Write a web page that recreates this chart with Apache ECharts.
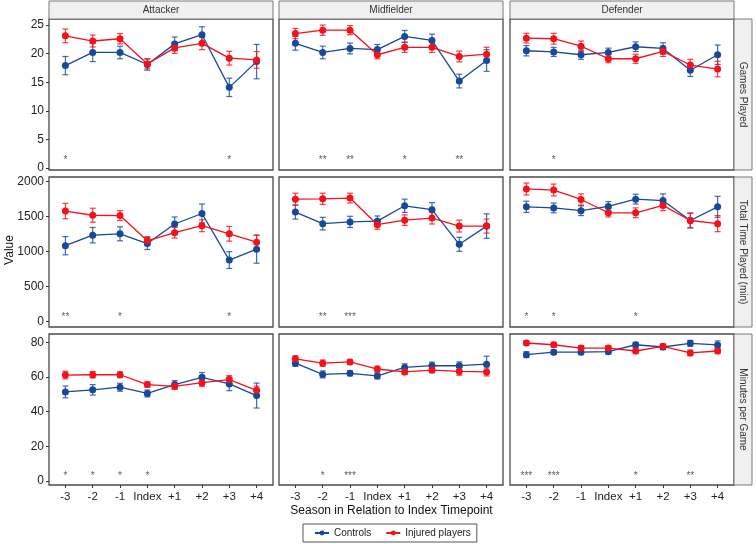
<!DOCTYPE html>
<html>
<head>
<meta charset="utf-8">
<script src="https://cdn.jsdelivr.net/npm/echarts@6/dist/echarts.min.js"></script>
<style>html,body{margin:0;padding:0;background:#fff}#chart{width:756px;height:544px}</style>
</head>
<body>
<div id="chart"></div>
<script>
// ---------- DATA ----------
const categories = ['-3', '-2', '-1', 'Index', '+1', '+2', '+3', '+4'];
const positions = ['Attacker', 'Midfielder', 'Defender'];
const measures = ['Games Played', 'Total Time Played (min)', 'Minutes per Game'];
const seriesNames = ['Controls', 'Injured players'];
const gamesTicks = [0, 5, 10, 15, 20, 25];
const timeTicks = [0, 500, 1000, 1500, 2000];
const mpgTicks = [0, 20, 40, 60, 80];

// Games Played
const gamesAttCtrl   = [17.9, 20.2, 20.2, 18.1, 21.7, 23.3, 14.1, 18.6];
const gamesAttCtrlSE = [1.6, 1.6, 1.1, 1.0, 1.2, 1.4, 1.6, 3.0];
const gamesAttInj    = [23.1, 22.2, 22.6, 18.2, 21.0, 21.8, 19.2, 18.9];
const gamesAttInjSE  = [1.2, 1.05, 0.9, 0.85, 0.95, 1.1, 1.2, 1.45];
const gamesMidCtrl   = [21.8, 20.2, 20.9, 20.7, 23.0, 22.3, 15.2, 18.8];
const gamesMidCtrlSE = [1.2, 1.1, 0.95, 0.9, 1.05, 1.1, 1.2, 1.9];
const gamesMidInj    = [23.5, 24.1, 24.1, 19.8, 21.1, 21.1, 19.5, 19.9];
const gamesMidInjSE  = [0.9, 0.9, 0.8, 0.7, 0.9, 0.9, 0.95, 1.2];
const gamesDefCtrl   = [20.5, 20.3, 19.8, 20.2, 21.2, 20.9, 17.1, 19.8];
const gamesDefCtrlSE = [0.9, 0.8, 0.8, 0.75, 0.85, 1.0, 1.1, 1.7];
const gamesDefInj    = [22.7, 22.6, 21.3, 19.1, 19.1, 20.4, 18.0, 17.3];
const gamesDefInjSE  = [0.85, 0.95, 0.9, 0.7, 0.8, 0.9, 1.0, 1.35];

// Total Time Played (min)
const timeAttCtrl   = [1085, 1235, 1255, 1115, 1395, 1545, 880, 1035];
const timeAttCtrlSE = [130, 110, 100, 85, 100, 135, 120, 200];
const timeAttInj    = [1580, 1520, 1515, 1155, 1270, 1370, 1255, 1135];
const timeAttInjSE  = [110, 100, 70, 60, 75, 85, 105, 100];
const timeMidCtrl   = [1565, 1400, 1425, 1435, 1655, 1600, 1105, 1365];
const timeMidCtrlSE = [100, 90, 80, 75, 95, 100, 100, 175];
const timeMidInj    = [1750, 1755, 1765, 1385, 1450, 1480, 1365, 1365];
const timeMidInjSE  = [85, 80, 70, 65, 75, 85, 85, 100];
const timeDefCtrl   = [1640, 1625, 1585, 1645, 1750, 1730, 1445, 1640];
const timeDefCtrlSE = [80, 70, 70, 70, 70, 95, 105, 150];
const timeDefInj    = [1895, 1880, 1745, 1555, 1555, 1660, 1445, 1400];
const timeDefInjSE  = [85, 85, 80, 60, 70, 75, 105, 115];

// Minutes per Game
const mpgAttCtrl   = [51.4, 52.6, 54.1, 50.5, 55.6, 59.8, 56.0, 49.3];
const mpgAttCtrlSE = [3.4, 3.0, 2.3, 2.0, 2.3, 2.8, 3.9, 7.2];
const mpgAttInj    = [61.1, 61.3, 61.3, 55.6, 54.6, 56.7, 58.5, 52.3];
const mpgAttInjSE  = [2.2, 1.9, 1.7, 1.6, 1.7, 2.1, 2.3, 2.4];
const mpgMidCtrl   = [68.0, 61.5, 62.1, 60.6, 65.5, 66.5, 66.5, 67.4];
const mpgMidCtrlSE = [1.9, 2.0, 1.4, 1.7, 2.1, 2.1, 2.2, 4.6];
const mpgMidInj    = [70.5, 68.0, 68.7, 64.6, 62.9, 64.0, 63.2, 62.9];
const mpgMidInjSE  = [1.7, 1.8, 1.4, 1.6, 1.5, 1.6, 2.2, 2.3];
const mpgDefCtrl   = [72.9, 74.3, 74.3, 74.6, 78.6, 77.3, 79.4, 78.5];
const mpgDefCtrlSE = [1.7, 1.3, 1.3, 1.3, 1.4, 1.5, 1.7, 2.3];
const mpgDefInj    = [79.6, 78.6, 76.7, 76.7, 75.0, 77.7, 73.9, 75.0];
const mpgDefInjSE  = [1.4, 1.4, 1.4, 1.4, 1.5, 1.3, 1.6, 1.5];

// Significance markers
const gamesAttSig = ['*', '', '', '', '', '', '*', ''];
const gamesMidSig = ['', '**', '**', '', '*', '', '**', ''];
const gamesDefSig = ['', '*', '', '', '', '', '', ''];
const timeAttSig  = ['**', '', '*', '', '', '', '*', ''];
const timeMidSig  = ['', '**', '***', '', '', '', '', ''];
const timeDefSig  = ['*', '*', '', '', '*', '', '', ''];
const mpgAttSig   = ['*', '*', '*', '*', '', '', '', ''];
const mpgMidSig   = ['', '*', '***', '', '', '', '', ''];
const mpgDefSig   = ['***', '***', '', '', '*', '', '**', ''];

// ---------- LAYOUT / STYLE ----------
const FONT = '"Liberation Sans", Arial, Helvetica, sans-serif';
const COLORS = ['#17489a', '#f5101a'];
const panelLeft = [49, 279, 510];
const panelW = 224;
const panelTop = [19, 177, 334];
const panelH = [151, 150, 151];
const yRange = [[-0.35, 26.05], [-76, 2066], [-2.3, 84.8]];
const starLevel = [1.4, 64, 3.0];
const rowTicks = [gamesTicks, timeTicks, mpgTicks];

const panels = [
  [[gamesAttCtrl, gamesAttCtrlSE, gamesAttInj, gamesAttInjSE, gamesAttSig],
   [gamesMidCtrl, gamesMidCtrlSE, gamesMidInj, gamesMidInjSE, gamesMidSig],
   [gamesDefCtrl, gamesDefCtrlSE, gamesDefInj, gamesDefInjSE, gamesDefSig]],
  [[timeAttCtrl, timeAttCtrlSE, timeAttInj, timeAttInjSE, timeAttSig],
   [timeMidCtrl, timeMidCtrlSE, timeMidInj, timeMidInjSE, timeMidSig],
   [timeDefCtrl, timeDefCtrlSE, timeDefInj, timeDefInjSE, timeDefSig]],
  [[mpgAttCtrl, mpgAttCtrlSE, mpgAttInj, mpgAttInjSE, mpgAttSig],
   [mpgMidCtrl, mpgMidCtrlSE, mpgMidInj, mpgMidInjSE, mpgMidSig],
   [mpgDefCtrl, mpgDefCtrlSE, mpgDefInj, mpgDefInjSE, mpgDefSig]]
];

const grids = [], xAxes = [], yAxes = [], series = [], graphics = [];
const catIdx = categories.map((c, i) => i);

function errSeries(gi, means, ses, color) {
  return {
    type: 'custom', xAxisIndex: gi, yAxisIndex: gi, silent: true, z: 2,
    data: means.map((m, i) => [i, m - ses[i], m + ses[i]]),
    encode: { x: 0, y: [1, 2] },
    renderItem: function (params, api) {
      const x = api.value(0);
      const lo = api.coord([x, api.value(1)]);
      const hi = api.coord([x, api.value(2)]);
      const cw = 3;
      const st = { stroke: color, lineWidth: 1.2, opacity: 0.8 };
      return { type: 'group', children: [
        { type: 'line', shape: { x1: lo[0], y1: lo[1], x2: hi[0], y2: hi[1] }, style: st },
        { type: 'line', shape: { x1: lo[0] - cw, y1: lo[1], x2: lo[0] + cw, y2: lo[1] }, style: st },
        { type: 'line', shape: { x1: hi[0] - cw, y1: hi[1], x2: hi[0] + cw, y2: hi[1] }, style: st }
      ]};
    }
  };
}

for (let r = 0; r < 3; r++) {
  for (let c = 0; c < 3; c++) {
    const gi = r * 3 + c;
    grids.push({
      left: panelLeft[c], top: panelTop[r], width: panelW, height: panelH[r],
      show: true, borderColor: '#4a4a4a', borderWidth: 1.3, backgroundColor: '#fff'
    });
    xAxes.push({
      type: 'value', gridIndex: gi, min: -0.6, max: 7.6, position: 'bottom',
      axisLine: { show: false, onZero: false }, splitLine: { show: false },
      axisTick: { show: r === 2, length: 3, lineStyle: { color: '#333' }, customValues: catIdx },
      axisLabel: { show: r === 2, margin: 6, color: '#222', fontSize: 11.5, fontFamily: FONT,
                   customValues: catIdx, formatter: v => categories[Math.round(v)] }
    });
    yAxes.push({
      type: 'value', gridIndex: gi, min: yRange[r][0], max: yRange[r][1], position: 'left',
      axisLine: { show: false, onZero: false }, splitLine: { show: false },
      axisTick: { show: c === 0, length: 3, lineStyle: { color: '#333' }, customValues: rowTicks[r] },
      axisLabel: { show: c === 0, margin: 5, color: '#222', fontSize: 12, fontFamily: FONT,
                   customValues: rowTicks[r], formatter: v => String(v) }
    });
    const p = panels[r][c];
    // error bars
    series.push(errSeries(gi, p[0], p[1], COLORS[0]));
    series.push(errSeries(gi, p[2], p[3], COLORS[1]));
    // lines + points
    [0, 1].forEach(k => {
      series.push({
        name: seriesNames[k], type: 'line', xAxisIndex: gi, yAxisIndex: gi, z: 3 + k,
        data: p[k * 2].map((v, i) => [i, v]),
        symbol: 'circle', symbolSize: 7, silent: true,
        lineStyle: { color: COLORS[k], width: 1.3 },
        itemStyle: { color: COLORS[k] }
      });
    });
    // significance stars
    const sig = p[4];
    series.push({
      type: 'scatter', xAxisIndex: gi, yAxisIndex: gi, silent: true, z: 6,
      symbolSize: 0, itemStyle: { color: 'transparent' },
      data: sig.map((s, i) => [i, starLevel[r], s]).filter(d => d[2] !== ''),
      label: { show: true, position: 'inside', formatter: q => q.value[2],
               fontSize: 10, color: '#333', fontFamily: FONT }
    });
  }
}

// strips (top)
for (let c = 0; c < 3; c++) {
  graphics.push({ type: 'rect', z: 10,
    shape: { x: panelLeft[c], y: 1, width: panelW, height: panelTop[0] - 1 },
    style: { fill: '#f0f0f0', stroke: '#7a7a7a', lineWidth: 1 } });
  graphics.push({ type: 'text', z: 11,
    x: panelLeft[c] + panelW / 2, y: 1 + (panelTop[0] - 1) / 2,
    style: { text: positions[c], fill: '#333', font: '10px ' + FONT, align: 'center', verticalAlign: 'middle' } });
}
// strips (right)
const stripX = panelLeft[2] + panelW;
for (let r = 0; r < 3; r++) {
  graphics.push({ type: 'rect', z: 10,
    shape: { x: stripX, y: panelTop[r], width: 18, height: panelH[r] },
    style: { fill: '#f0f0f0', stroke: '#7a7a7a', lineWidth: 1 } });
  graphics.push({ type: 'text', z: 11,
    x: stripX + 9, y: panelTop[r] + panelH[r] / 2, rotation: -Math.PI / 2,
    style: { text: measures[r], fill: '#333', font: '10px ' + FONT, align: 'center', verticalAlign: 'middle' } });
}
// axis titles
graphics.push({ type: 'text', z: 11,
  x: (panelLeft[0] + panelLeft[2] + panelW) / 2, y: 511,
  style: { text: 'Season in Relation to Index Timepoint', fill: '#111', font: '12px ' + FONT, align: 'center', verticalAlign: 'middle' } });
graphics.push({ type: 'text', z: 11,
  x: 10, y: 250, rotation: Math.PI / 2,
  style: { text: 'Value', fill: '#111', font: '12px ' + FONT, align: 'center', verticalAlign: 'middle' } });

const chart = echarts.init(document.getElementById('chart'), null, { renderer: 'canvas' });
chart.setOption({
  animation: false,
  backgroundColor: '#fff',
  textStyle: { fontFamily: FONT },
  grid: grids, xAxis: xAxes, yAxis: yAxes, series: series,
  graphic: graphics,
  legend: {
    data: seriesNames, left: 303, top: 524, orient: 'horizontal',
    borderColor: '#555', borderWidth: 1, padding: [4, 6, 4, 11],
    itemWidth: 14, itemHeight: 6, itemGap: 14,
    textStyle: { fontSize: 10, color: '#222', fontFamily: FONT }
  }
});
</script>
</body>
</html>
